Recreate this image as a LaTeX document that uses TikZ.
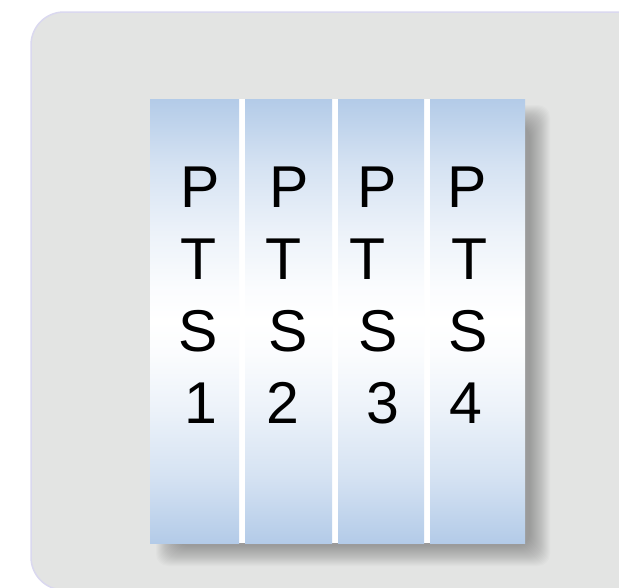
\documentclass[tikz,border=0pt]{standalone}
\usepackage{fontspec}
\setmainfont{Liberation Sans}
\definecolor{panelfill}{RGB}{227,228,227}
\definecolor{panelline}{RGB}{218,216,239}
\definecolor{colblue}{RGB}{179,203,232}
\pgfdeclareverticalshading{colshade}{100bp}{color(0bp)=(colblue); color(25bp)=(colblue); color(32.5bp)=(colblue!55!white); color(40bp)=(colblue!25!white); color(46.25bp)=(colblue!6!white); color(50bp)=(white); color(53.75bp)=(colblue!6!white); color(60bp)=(colblue!25!white); color(67.5bp)=(colblue!55!white); color(75bp)=(colblue); color(100bp)=(colblue)}
\tikzset{
  colbox/.style={rectangle, inner sep=0pt, draw=none, minimum height=444pt, shading=colshade},
  glyph/.style={anchor=base, inner sep=0pt, font=\fontsize{59}{59}\selectfont, text=black},
  shadowlayer/.style={fill=black, fill opacity=0.016, draw=none, rounded corners=12pt},
}
\begin{document}
\begin{tikzpicture}[x=1pt,y=-1pt]
\useasboundingbox (0,0) rectangle (619,587);
\clip (0,0) rectangle (619,587);
\fill[white] (0,0) rectangle (619,587);
\draw[draw=panelline, line width=1.5pt, fill=panelfill, rounded corners=33pt] (31,12) rectangle (655,590);
% soft shadow
\foreach \d in {-10,...,10} {
  \fill[shadowlayer] (166-\d,115-\d) rectangle (540+\d,556+\d);
}
% block (white fill gives the separating gaps)
\node[rectangle, inner sep=0pt, fill=white, minimum width=375pt, minimum height=444pt]
  (block) at (337.5,321) {};
\node[colbox, minimum width=89pt] (c1) at (194.5,321) {};
\node[colbox, minimum width=87pt] (c2) at (288.5,321) {};
\node[colbox, minimum width=86pt] (c3) at (381,321) {};
\node[colbox, minimum width=95pt] (c4) at (477.5,321) {};
% column 1
\node[glyph] (p1) at (200,207) {P};
\node[glyph] (t1) at (199,279) {T};
\node[glyph] (s1) at (198,351) {S};
\node[glyph] (n1) at (200.5,423) {1};
% column 2
\node[glyph] (p2) at (289,207) {P};
\node[glyph] (t2) at (283.5,279) {T};
\node[glyph] (s2) at (288,351) {S};
\node[glyph] (n2) at (282.5,423) {2};
% column 3
\node[glyph] (p3) at (377.5,207) {P};
\node[glyph] (t3) at (368,279) {T};
\node[glyph] (s3) at (378,351) {S};
\node[glyph] (n3) at (383,423) {3};
% column 4
\node[glyph] (p4) at (467,207) {P};
\node[glyph] (t4) at (469.5,279) {T};
\node[glyph] (s4) at (468,351) {S};
\node[glyph] (n4) at (465.5,423) {4};
\end{tikzpicture}
\end{document}
